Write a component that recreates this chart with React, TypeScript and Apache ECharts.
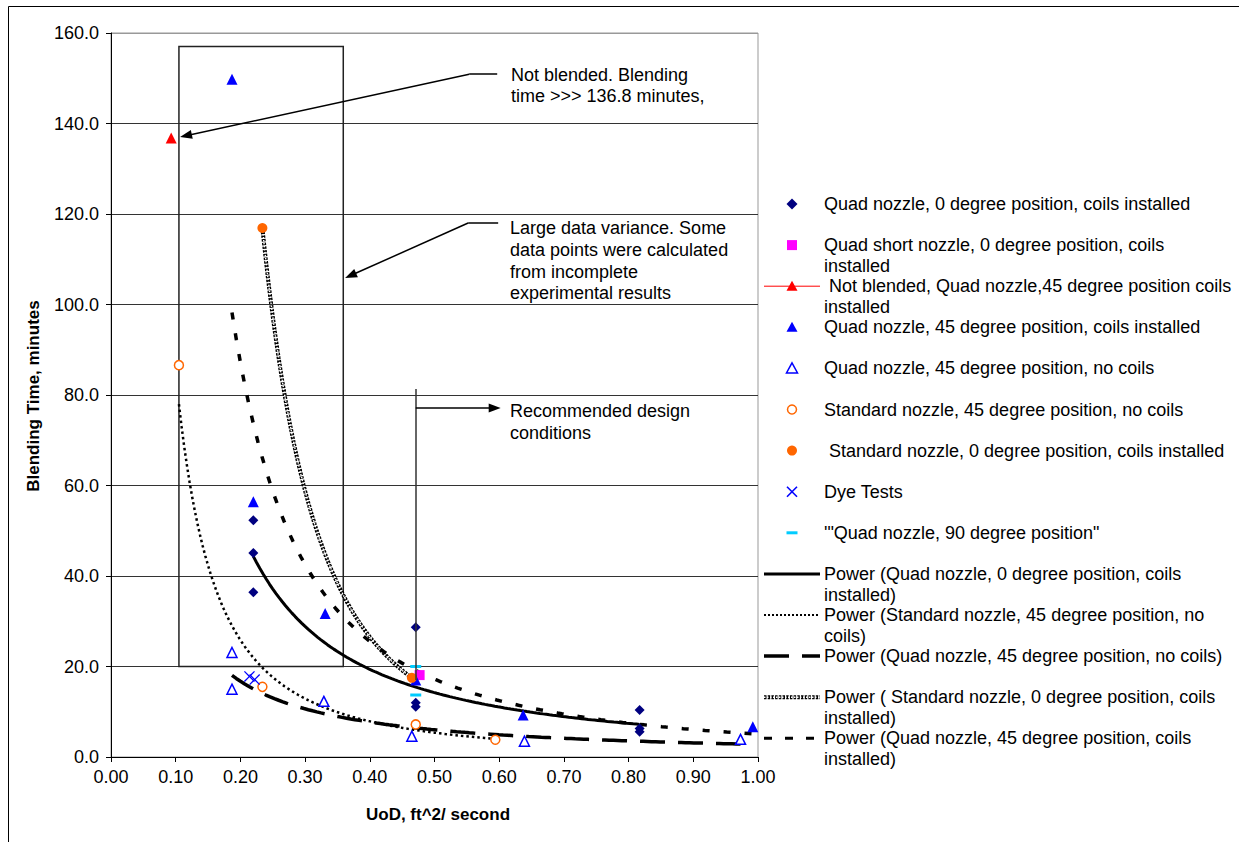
import React, { useEffect, useRef } from "react";
import * as echarts from "echarts";

const FONT = "'Liberation Sans', Arial, Helvetica, sans-serif";

// UoD (ft^2/second) and blending time (minutes) for each test group
const quad0CoilsX = [0.22, 0.22, 0.22, 0.471, 0.471, 0.471, 0.817, 0.817, 0.817];
const quad0CoilsY = [52.3, 45.1, 36.4, 28.7, 12.0, 11.1, 10.4, 6.3, 5.6];

const quadShortX = [0.477];
const quadShortY = [18.1];

const notBlendedX = [0.093];
const notBlendedY = [136.8];

const quad45CoilsX = [0.187, 0.22, 0.331, 0.471, 0.637, 0.992];
const quad45CoilsY = [149.8, 56.4, 31.7, 17.0, 9.3, 6.7];

const quad45NoCoilsX = [0.187, 0.187, 0.329, 0.465, 0.639, 0.973];
const quad45NoCoilsY = [23.1, 15.0, 12.3, 4.6, 3.5, 3.9];

const std45NoCoilsX = [0.105, 0.234, 0.471, 0.594];
const std45NoCoilsY = [86.6, 15.5, 7.2, 3.8];

const std0CoilsX = [0.234, 0.465];
const std0CoilsY = [116.9, 17.5];

const dyeX = [0.214, 0.222];
const dyeY = [17.8, 17.1];

const quad90X = [0.471, 0.471];
const quad90Y = [20.0, 13.7];

const NAVY = "#000080";
const MAGENTA = "#FF00FF";
const RED = "#FF0000";
const BLUE = "#0000FF";
const ORANGE = "#FF6600";
const CYAN = "#00CCFF";

type Pt = [number, number];
const pairs = (xs: number[], ys: number[]): Pt[] => xs.map((x, i) => [x, ys[i]] as Pt);

// Power trendline y = a * x^b, least squares in log-log space, spanning the data's x range
function powerTrend(xs: number[], ys: number[], steps = 120): Pt[] {
  const n = xs.length;
  const lx = xs.map((v) => Math.log(v));
  const ly = ys.map((v) => Math.log(v));
  const mx = lx.reduce((s, v) => s + v, 0) / n;
  const my = ly.reduce((s, v) => s + v, 0) / n;
  let sxy = 0;
  let sxx = 0;
  for (let i = 0; i < n; i++) {
    sxy += (lx[i] - mx) * (ly[i] - my);
    sxx += (lx[i] - mx) * (lx[i] - mx);
  }
  const b = sxy / sxx;
  const a = Math.exp(my - b * mx);
  const lo = Math.min(...xs);
  const hi = Math.max(...xs);
  const out: Pt[] = [];
  for (let i = 0; i <= steps; i++) {
    const x = lo + ((hi - lo) * i) / steps;
    out.push([x, a * Math.pow(x, b)]);
  }
  return out;
}

const CROSS = "path://M1,0L6,5L11,0L12,1L7,6L12,11L11,12L6,7L1,12L0,11L5,6L0,1Z";

const legendEntries: { text: string; icon: string }[] = [
  { text: "Quad nozzle, 0 degree position, coils installed", icon: "diamond" },
  { text: "Quad short nozzle, 0 degree position, coils\ninstalled", icon: "square" },
  { text: " Not blended, Quad nozzle,45 degree position coils\ninstalled", icon: "redTriLine" },
  { text: "Quad nozzle, 45 degree position, coils installed", icon: "triFilled" },
  { text: "Quad nozzle, 45 degree position, no coils", icon: "triOpen" },
  { text: "Standard nozzle, 45 degree position, no coils", icon: "circOpen" },
  { text: " Standard nozzle, 0 degree position, coils installed", icon: "circFilled" },
  { text: "Dye Tests", icon: "cross" },
  { text: "'\"Quad nozzle, 90 degree position\"", icon: "cyanDash" },
  { text: "Power (Quad nozzle, 0 degree position, coils\ninstalled)", icon: "solid" },
  { text: "Power (Standard nozzle, 45 degree position, no\ncoils)", icon: "fineDot" },
  { text: "Power (Quad nozzle, 45 degree position, no coils)", icon: "longDash" },
  { text: "Power ( Standard nozzle, 0 degree position, coils\ninstalled)", icon: "chain" },
  { text: "Power (Quad nozzle, 45 degree position, coils\ninstalled)", icon: "shortDash" },
];

const LEG_X = 792;
const LINE_X1 = 764;
const LINE_X2 = 820;

function legendIcon(kind: string, y: number): any[] {
  const tri = (fill: string, stroke?: string) => ({
    type: "polygon",
    shape: { points: [[LEG_X, y - 5.5], [LEG_X + 5.5, y + 4.5], [LEG_X - 5.5, y + 4.5]] },
    style: stroke ? { fill, stroke, lineWidth: 1.5 } : { fill },
  });
  const seg = (style: any) => ({
    type: "line",
    shape: { x1: LINE_X1, y1: y, x2: LINE_X2, y2: y },
    style,
  });
  switch (kind) {
    case "diamond":
      return [{
        type: "polygon",
        shape: { points: [[LEG_X, y - 5.5], [LEG_X + 5.5, y], [LEG_X, y + 5.5], [LEG_X - 5.5, y]] },
        style: { fill: NAVY },
      }];
    case "square":
      return [{ type: "rect", shape: { x: LEG_X - 5, y: y - 5, width: 10, height: 10 }, style: { fill: MAGENTA } }];
    case "redTriLine":
      return [seg({ stroke: RED, lineWidth: 1 }), tri(RED)];
    case "triFilled":
      return [tri(BLUE)];
    case "triOpen":
      return [tri("#fff", BLUE)];
    case "circOpen":
      return [{ type: "circle", shape: { cx: LEG_X, cy: y, r: 4.5 }, style: { fill: "#fff", stroke: ORANGE, lineWidth: 1.5 } }];
    case "circFilled":
      return [{ type: "circle", shape: { cx: LEG_X, cy: y, r: 5 }, style: { fill: ORANGE } }];
    case "cross":
      return [
        { type: "line", shape: { x1: LEG_X - 5, y1: y - 5, x2: LEG_X + 5, y2: y + 5 }, style: { stroke: BLUE, lineWidth: 1.6 } },
        { type: "line", shape: { x1: LEG_X + 5, y1: y - 5, x2: LEG_X - 5, y2: y + 5 }, style: { stroke: BLUE, lineWidth: 1.6 } },
      ];
    case "cyanDash":
      return [{ type: "rect", shape: { x: LEG_X - 5.5, y: y - 1.5, width: 11, height: 3 }, style: { fill: CYAN } }];
    case "solid":
      return [seg({ stroke: "#000", lineWidth: 3 })];
    case "fineDot":
      return [seg({ stroke: "#000", lineWidth: 2, lineDash: [2, 2] })];
    case "longDash":
      return [seg({ stroke: "#000", lineWidth: 3.5, lineDash: [25, 13] })];
    case "chain":
      return [
        seg({ stroke: "#000", lineWidth: 4, lineDash: [2.5, 1.2] }),
        seg({ stroke: "#fff", lineWidth: 1.4, lineDash: [1.5, 1.5] }),
      ];
    case "shortDash":
      return [seg({ stroke: "#000", lineWidth: 3, lineDash: [8, 13] })];
  }
  return [];
}

function buildLegend(): any[] {
  const out: any[] = [];
  legendEntries.forEach((e, i) => {
    const y = 204 + i * 41.1;
    out.push(...legendIcon(e.icon, y));
    out.push({
      type: "text",
      x: 824,
      y: y - 10.5,
      style: {
        text: e.text,
        font: `18px ${FONT}`,
        fill: "#000",
        lineHeight: 21,
        align: "left",
        verticalAlign: "top",
      },
    });
  });
  return out;
}

function annotationText(x: number, y: number, text: string, lineHeight: number) {
  return {
    type: "text",
    x,
    y,
    style: { text, font: `18px ${FONT}`, fill: "#000", lineHeight, align: "left", verticalAlign: "top" },
  };
}

const arrowEnd = (x: number, y: number) => ({ coord: [x, y], symbol: "triangle", symbolSize: [9, 12] });
const plainEnd = (x: number, y: number) => ({ coord: [x, y], symbol: "none" });

function buildOption(): any {
  const gridColors = ["#000", "#333", "#333", "#333", "#333", "#333", "#333", "#333", "#999"];
  return {
    animation: false,
    backgroundColor: "#fff",
    textStyle: { fontFamily: FONT },
    grid: { left: 111, top: 33, width: 647, height: 724, show: true, borderColor: "#999", borderWidth: 1 },
    xAxis: {
      type: "value",
      min: 0,
      max: 1,
      interval: 0.1,
      axisLine: { show: true, onZero: false, lineStyle: { color: "#000", width: 1 } },
      axisTick: { show: true, length: 5, lineStyle: { color: "#000" } },
      axisLabel: { color: "#000", fontSize: 18, fontFamily: FONT, margin: 11, formatter: (v: number) => v.toFixed(2) },
      splitLine: { show: false },
    },
    yAxis: {
      type: "value",
      min: 0,
      max: 160,
      interval: 20,
      axisLine: { show: true, onZero: false, lineStyle: { color: "#000", width: 1 } },
      axisTick: { show: true, length: 5, lineStyle: { color: "#000" } },
      axisLabel: { color: "#000", fontSize: 18, fontFamily: FONT, margin: 12, formatter: (v: number) => v.toFixed(1) },
      splitLine: { show: true, lineStyle: { color: gridColors, width: 1 } },
    },
    series: [
      // trendlines
      {
        name: "Power (Quad nozzle, 0 degree position, coils installed)",
        type: "line",
        data: powerTrend(quad0CoilsX, quad0CoilsY),
        symbol: "none",
        silent: true,
        z: 2,
        lineStyle: { color: "#000", width: 3, type: "solid" },
      },
      {
        name: "Power (Standard nozzle, 45 degree position, no coils)",
        type: "line",
        data: powerTrend(std45NoCoilsX, std45NoCoilsY),
        symbol: "none",
        silent: true,
        z: 2,
        lineStyle: { color: "#000", width: 2.5, type: [2.5, 3] },
      },
      {
        name: "Power (Quad nozzle, 45 degree position, no coils)",
        type: "line",
        data: powerTrend(quad45NoCoilsX, quad45NoCoilsY),
        symbol: "none",
        silent: true,
        z: 2,
        lineStyle: { color: "#000", width: 3.5, type: [25, 13] },
      },
      {
        name: "Power ( Standard nozzle, 0 degree position, coils installed)",
        type: "line",
        data: powerTrend(std0CoilsX, std0CoilsY),
        symbol: "none",
        silent: true,
        z: 2,
        lineStyle: { color: "#000", width: 4, type: [2.5, 1.2] },
      },
      {
        name: "Power ( Standard nozzle, 0 degree position, coils installed) inner",
        type: "line",
        data: powerTrend(std0CoilsX, std0CoilsY),
        symbol: "none",
        silent: true,
        z: 2,
        lineStyle: { color: "#fff", width: 1.4, type: [1.5, 1.5] },
      },
      {
        name: "Power (Quad nozzle, 45 degree position, coils installed)",
        type: "line",
        data: powerTrend(quad45CoilsX, quad45CoilsY),
        symbol: "none",
        silent: true,
        z: 2,
        lineStyle: { color: "#000", width: 3.5, type: [7, 14] },
      },
      // measured points
      {
        name: "Quad nozzle, 0 degree position, coils installed",
        type: "scatter",
        data: pairs(quad0CoilsX, quad0CoilsY),
        symbol: "diamond",
        symbolSize: 10,
        itemStyle: { color: NAVY, opacity: 1 },
        z: 3,
        markArea: {
          silent: true,
          label: { show: false },
          itemStyle: { color: "rgba(0,0,0,0)", borderColor: "#222", borderWidth: 1.5 },
          data: [[{ coord: [0.105, 157] }, { coord: [0.359, 20] }]],
        },
        markLine: {
          silent: true,
          symbol: "none",
          label: { show: false },
          lineStyle: { color: "#000", width: 1.5, type: "solid" },
          emphasis: { disabled: true },
          data: [
            [plainEnd(0.5536, 150.9), plainEnd(0.5969, 150.9)],
            [plainEnd(0.5536, 150.9), arrowEnd(0.1158, 137.3)],
            [plainEnd(0.552, 118.0), plainEnd(0.5984, 118.0)],
            [plainEnd(0.552, 118.0), arrowEnd(0.3703, 106.4)],
            [{ ...plainEnd(0.471, 81.3), lineStyle: { color: "#333", width: 1.5 } }, plainEnd(0.471, 17)],
            [plainEnd(0.471, 77.1), arrowEnd(0.593, 77.1)],
          ],
        },
      },
      {
        name: "Quad short nozzle, 0 degree position, coils installed",
        type: "scatter",
        data: pairs(quadShortX, quadShortY),
        symbol: "rect",
        symbolSize: 10,
        itemStyle: { color: MAGENTA, opacity: 1 },
        z: 3,
      },
      {
        name: "Not blended, Quad nozzle,45 degree position coils installed",
        type: "line",
        data: pairs(notBlendedX, notBlendedY),
        symbol: "triangle",
        symbolSize: 11,
        showSymbol: true,
        itemStyle: { color: RED, opacity: 1 },
        lineStyle: { color: RED, width: 1 },
        z: 3,
      },
      {
        name: "Quad nozzle, 45 degree position, coils installed",
        type: "scatter",
        data: pairs(quad45CoilsX, quad45CoilsY),
        symbol: "triangle",
        symbolSize: 11,
        itemStyle: { color: BLUE, opacity: 1 },
        z: 3,
      },
      {
        name: "Quad nozzle, 45 degree position, no coils",
        type: "scatter",
        data: pairs(quad45NoCoilsX, quad45NoCoilsY),
        symbol: "triangle",
        symbolSize: 10,
        itemStyle: { color: "#fff", borderColor: BLUE, borderWidth: 1.5, opacity: 1 },
        z: 3,
      },
      {
        name: "Standard nozzle, 45 degree position, no coils",
        type: "scatter",
        data: pairs(std45NoCoilsX, std45NoCoilsY),
        symbol: "circle",
        symbolSize: 9,
        itemStyle: { color: "#fff", borderColor: ORANGE, borderWidth: 1.5, opacity: 1 },
        z: 3,
      },
      {
        name: "Standard nozzle, 0 degree position, coils installed",
        type: "scatter",
        data: pairs(std0CoilsX, std0CoilsY),
        symbol: "circle",
        symbolSize: 10,
        itemStyle: { color: ORANGE, opacity: 1 },
        z: 3,
      },
      {
        name: "Dye Tests",
        type: "scatter",
        data: pairs(dyeX, dyeY),
        symbol: CROSS,
        symbolSize: 11,
        itemStyle: { color: BLUE, opacity: 1 },
        z: 3,
      },
      {
        name: "'\"Quad nozzle, 90 degree position\"",
        type: "scatter",
        data: pairs(quad90X, quad90Y),
        symbol: "rect",
        symbolSize: [11, 3],
        itemStyle: { color: CYAN, opacity: 1 },
        z: 3,
      },
    ],
    graphic: [
      {
        type: "rect",
        shape: { x: 8.5, y: 6.5, width: 1400, height: 1000 },
        style: { fill: "none", stroke: "#000", lineWidth: 1 },
        silent: true,
      },
      {
        type: "text",
        x: 33,
        y: 396,
        rotation: Math.PI / 2,
        style: {
          text: "Blending Time, minutes",
          font: `bold 17px ${FONT}`,
          fill: "#000",
          align: "center",
          verticalAlign: "middle",
        },
      },
      {
        type: "text",
        x: 438,
        y: 814,
        style: {
          text: "UoD, ft^2/ second",
          font: `bold 17px ${FONT}`,
          fill: "#000",
          align: "center",
          verticalAlign: "middle",
        },
      },
      annotationText(511, 64.5, "Not blended. Blending\ntime >>> 136.8 minutes,", 21),
      annotationText(510, 217.5, "Large data variance. Some\ndata points were calculated\nfrom incomplete\nexperimental results", 21.7),
      annotationText(510, 400, "Recommended design\nconditions", 22),
      ...buildLegend(),
    ],
  };
}

export default function App() {
  const ref = useRef<HTMLDivElement>(null);
  useEffect(() => {
    if (!ref.current) return;
    const chart = echarts.init(ref.current, null, { renderer: "svg" });
    chart.setOption(buildOption());
    return () => chart.dispose();
  }, []);
  return (
    <div
      ref={ref}
      style={{ position: "fixed", left: 0, top: 0, width: 1239, height: 842, background: "#fff" }}
    />
  );
}
